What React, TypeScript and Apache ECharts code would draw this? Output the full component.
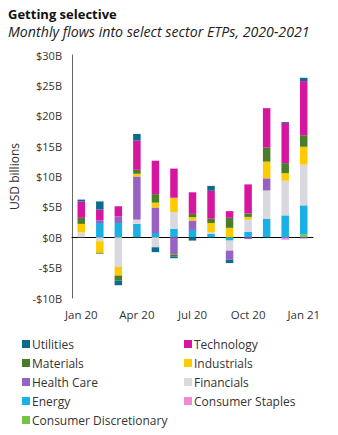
import React, { useEffect, useRef } from "react";
import * as echarts from "echarts";

const months = ["Jan 20", "Feb 20", "Mar 20", "Apr 20", "May 20", "Jun 20", "Jul 20", "Aug 20", "Sep 20", "Oct 20", "Nov 20", "Dec 20", "Jan 21"];

const consumerDiscretionary = [0, 0, 0, 0, 0, 0, 0, 0, 0, 0, 0, 0, 0.45];
const consumerStaples = [0, 0, 0, 0, 0, 0, 0, 0, 0, 0, 0, -0.4, 0];
const energy = [0, 2.35, 2.35, 2.2, 0.7, 1.4, 1.2, 0.55, -0.55, 0.9, 3.0, 3.6, 4.8];
const financials = [0.8, -0.65, -4.9, 0.7, -1.65, 2.75, 0, 0.3, -1.65, 2.0, 4.7, 5.7, 6.7];
const healthCare = [0, 0.45, 1.1, 7.1, 4.2, -2.85, 1.55, 0, -1.5, -0.3, 2.0, 0, -0.2];
const industrials = [1.4, -1.9, -1.4, 0.45, 0.8, 2.35, 0.55, 1.5, 1.55, 0.45, 2.75, 1.25, 2.95];
const materials = [1.0, -0.15, -0.8, 0.65, 1.4, -0.3, 0.55, 0.7, 1.65, 0.55, 2.3, 1.65, 1.9];
const technology = [2.7, 1.75, 1.65, 4.8, 5.5, 4.8, 3.55, 4.6, 1.1, 4.8, 6.5, 6.6, 8.9];
const utilities = [0.3, 1.35, -0.8, 1.1, -0.8, -0.3, -0.55, 0.8, -0.55, 0, 0, 0.15, 0.55];

const yTicks = { min: -10, max: 30, interval: 5 };

const seriesDefs = [
  { name: "Consumer Discretionary", data: consumerDiscretionary, color: "#76c442" },
  { name: "Consumer Staples", data: consumerStaples, color: "#ee8ad9" },
  { name: "Energy", data: energy, color: "#19b1e4" },
  { name: "Financials", data: financials, color: "#d9d8df" },
  { name: "Health Care", data: healthCare, color: "#9862c4" },
  { name: "Industrials", data: industrials, color: "#fecb00" },
  { name: "Materials", data: materials, color: "#4a7d2a" },
  { name: "Technology", data: technology, color: "#d6169f" },
  { name: "Utilities", data: utilities, color: "#0e6b8c" },
];

const legendLeft = ["Utilities", "Materials", "Health Care", "Energy", "Consumer Discretionary"];
const legendRight = ["Technology", "Industrials", "Financials", "Consumer Staples"];

const FONT = "Open Sans";

export default function App() {
  const ref = useRef<HTMLDivElement>(null);
  useEffect(() => {
    if (!ref.current) return;
    const chart = echarts.init(ref.current, null, { renderer: "svg" });
    const legendBase = {
      orient: "vertical" as const,
      top: 338,
      itemWidth: 8,
      itemHeight: 8,
      itemGap: 7,
      padding: 0,
      icon: "rect",
      selectedMode: false,
      textStyle: { fontFamily: FONT, fontSize: 12, color: "#333", padding: [0, 0, 0, -3] },
    };
    chart.setOption({
      animation: false,
      backgroundColor: "#fff",
      textStyle: { fontFamily: FONT },
      title: {
        text: "Getting selective",
        subtext: "Monthly flows into select sector ETPs, 2020-2021",
        left: 8,
        top: 7,
        itemGap: 4,
        padding: 0,
        textStyle: { fontFamily: FONT, fontSize: 13, fontWeight: "bold", color: "#111" },
        subtextStyle: { fontFamily: FONT, fontSize: 14.2, fontStyle: "italic", color: "#222" },
      },
      legend: [
        { ...legendBase, left: 22, data: legendLeft },
        { ...legendBase, left: 184, data: legendRight },
      ],
      grid: { left: 71, top: 55, right: 25, bottom: 137, containLabel: false },
      xAxis: [
        {
          type: "category",
          data: months,
          axisLine: { show: true, onZero: true, lineStyle: { color: "#000", width: 1 } },
          axisTick: { show: false },
          axisLabel: { show: false },
          splitLine: { show: false },
        },
        {
          type: "category",
          data: months,
          position: "bottom",
          axisLine: { show: false, onZero: false },
          axisTick: { show: false },
          axisLabel: { interval: 2, margin: 10, fontFamily: FONT, fontSize: 11.5, color: "#333" },
          splitLine: { show: false },
        },
      ],
      yAxis: {
        type: "value",
        min: yTicks.min,
        max: yTicks.max,
        interval: yTicks.interval,
        name: "USD billions",
        nameLocation: "middle",
        nameGap: 52,
        nameTextStyle: { fontFamily: FONT, fontSize: 12, color: "#333" },
        axisLine: { show: true, lineStyle: { color: "#666", width: 1 } },
        axisTick: { show: false },
        splitLine: { show: false },
        axisLabel: {
          margin: 10,
          fontFamily: FONT,
          fontSize: 11,
          color: "#333",
          formatter: (v: number) => (v < 0 ? `-$${-v}B` : `$${v}B`),
        },
      },
      series: seriesDefs.map((s) => ({
        name: s.name,
        type: "bar",
        stack: "flows",
        xAxisIndex: 0,
        barWidth: 7.5,
        data: s.data,
        itemStyle: { color: s.color },
      })),
    });
    return () => chart.dispose();
  }, []);
  return <div ref={ref} style={{ position: "fixed", left: 0, top: 0, width: 338, height: 435 }} />;
}
